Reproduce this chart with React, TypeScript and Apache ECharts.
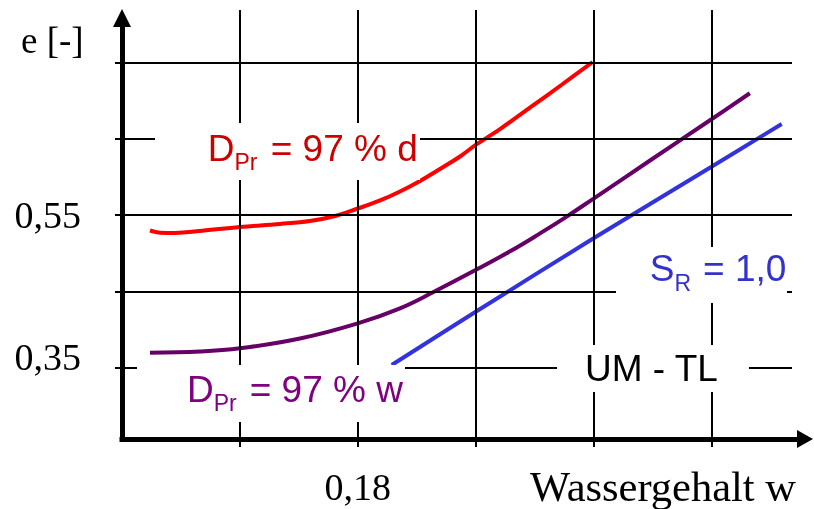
import React, { useEffect, useRef } from "react";
import * as echarts from "echarts";

// Water content w (x) and void ratio e (y)
const redW = [0.14475, 0.14645, 0.14899, 0.15323, 0.16, 0.16681, 0.17189, 0.17579, 0.18, 0.18377, 0.18716, 0.19055, 0.19394, 0.19734, 0.2, 0.20412, 0.20972, 0.21464, 0.21985];
const redE = [0.5299, 0.5271, 0.5267, 0.5293, 0.5345, 0.5385, 0.5424, 0.5483, 0.5588, 0.5693, 0.5811, 0.5949, 0.6106, 0.627, 0.6421, 0.663, 0.6939, 0.7214, 0.7509];

const purpleW = [0.14475, 0.15323, 0.16, 0.17019, 0.18, 0.18716, 0.19276, 0.2, 0.20599, 0.21091, 0.21544, 0.22, 0.22957, 0.24, 0.2465];
const purpleE = [0.3697, 0.3712, 0.3754, 0.3883, 0.4082, 0.4279, 0.4489, 0.4781, 0.5033, 0.5261, 0.5482, 0.5718, 0.6217, 0.6758, 0.7099];

const blueW = [0.18575, 0.2, 0.22, 0.24, 0.25191];
const blueE = [0.3535, 0.4234, 0.5197, 0.6136, 0.6696];

const hGrid = [0.35, 0.45, 0.55, 0.65, 0.75];
const vGrid = [0.16, 0.18, 0.2, 0.22, 0.24];
const yTickValues = [0.35, 0.55];
const xTickValues = [0.18];

const X_MIN = 0.138813;
const X_MAX = 0.253656;
const Y_MIN = 0.246;
const Y_MAX = 0.8191;

const SANS = '"Liberation Sans", Arial, sans-serif';
const SERIF = '"Liberation Serif", "Times New Roman", serif';

const pairs = (xs: number[], ys: number[]) => xs.map((x, i) => [x, ys[i]]);
const fmt = (v: number) => v.toFixed(2).replace(".", ",");

function txt(text: string, x: number, y: number, size: number, color: string, family = SANS, align = "left") {
  return {
    type: "text",
    x,
    y,
    z: 11,
    silent: true,
    style: {
      text,
      fill: color,
      font: `${size}px ${family}`,
      textAlign: align,
      align,
      textVerticalAlign: "middle",
      verticalAlign: "middle",
    },
  };
}

function bg(x: number, y: number, w: number, h: number) {
  return { type: "rect", z: 10, silent: true, shape: { x, y, width: w, height: h }, style: { fill: "#fff" } };
}

export default function App() {
  const ref = useRef<HTMLDivElement>(null);
  useEffect(() => {
    if (!ref.current) return;
    const chart = echarts.init(ref.current, undefined, { renderer: "svg" });
    const red = "#ff0000";
    const redText = "#cc0000";
    const purple = "#660066";
    const purpleText = "#800080";
    const blue = "#3333dd";
    const blueText = "#3333cc";
    const option: any = {
      animation: false,
      grid: [
        { left: 115, right: 22, top: 10, bottom: 62 },
        { left: 122, right: 9, top: 18, bottom: 70 },
      ],
      xAxis: [
        {
          gridIndex: 0,
          type: "value",
          min: X_MIN,
          max: X_MAX,
          axisLine: { show: false },
          axisTick: { show: false },
          splitLine: { show: false },
          axisLabel: {
            customValues: xTickValues,
            formatter: fmt,
            margin: 21,
            color: "#000",
            fontFamily: SERIF,
            fontSize: 38,
          },
        },
        {
          gridIndex: 1,
          type: "value",
          min: 0,
          max: 1,
          axisLine: {
            show: true,
            onZero: false,
            symbol: ["none", "triangle"],
            symbolSize: [18, 16],
            lineStyle: { color: "#000", width: 5, cap: "square" },
          },
          axisTick: { show: false },
          axisLabel: { show: false },
          splitLine: { show: false },
        },
      ],
      yAxis: [
        {
          gridIndex: 0,
          type: "value",
          min: Y_MIN,
          max: Y_MAX,
          axisLine: { show: false },
          axisTick: { show: false },
          splitLine: { show: false },
          axisLabel: {
            customValues: yTickValues,
            formatter: (v: number) => (Math.abs(v - 0.35) < 1e-6 ? `{up|${fmt(v)}}` : `{n|${fmt(v)}}`),
            margin: 34,
            color: "#000",
            fontFamily: SERIF,
            fontSize: 38,
            rich: {
              up: { fontFamily: SERIF, fontSize: 38, color: "#000", padding: [0, 0, 22, 0] },
              n: { fontFamily: SERIF, fontSize: 38, color: "#000" },
            },
          },
        },
        {
          gridIndex: 1,
          type: "value",
          min: 0,
          max: 1,
          axisLine: {
            show: true,
            onZero: false,
            symbol: ["none", "triangle"],
            symbolSize: [18, 18],
            lineStyle: { color: "#000", width: 5, cap: "square" },
          },
          axisTick: { show: false },
          axisLabel: { show: false },
          splitLine: { show: false },
        },
      ],
      series: [
        {
          type: "line",
          xAxisIndex: 0,
          yAxisIndex: 0,
          data: [],
          z: 1,
          silent: true,
          markLine: {
            silent: true,
            symbol: ["none", "none"],
            label: { show: false },
            emphasis: { disabled: true },
            lineStyle: { color: "#000", width: 2, type: "solid" },
            data: [...hGrid.map((v) => ({ yAxis: v })), ...vGrid.map((v) => ({ xAxis: v }))],
          },
        },
        {
          type: "line",
          name: "DPr = 97 % d",
          xAxisIndex: 0,
          yAxisIndex: 0,
          data: pairs(redW, redE),
          smooth: 0.4,
          symbol: "none",
          z: 3,
          lineStyle: { color: red, width: 4 },
        },
        {
          type: "line",
          name: "DPr = 97 % w",
          xAxisIndex: 0,
          yAxisIndex: 0,
          data: pairs(purpleW, purpleE),
          smooth: 0.4,
          symbol: "none",
          z: 3,
          lineStyle: { color: purple, width: 4 },
        },
        {
          type: "line",
          name: "SR = 1,0",
          xAxisIndex: 0,
          yAxisIndex: 0,
          data: pairs(blueW, blueE),
          smooth: 0.3,
          symbol: "none",
          z: 3,
          lineStyle: { color: blue, width: 4 },
        },
      ],
      graphic: [
        bg(155, 123, 265, 57),
        bg(137, 365, 268, 57),
        bg(557, 345, 192, 47),
        bg(616, 247, 171, 56),
        txt("D", 207.7, 148.7, 37, redText),
        txt("Pr", 234.4, 161.6, 23, redText),
        txt("= 97 % d", 270.7, 148.7, 37, redText),
        txt("D", 187, 389.3, 37, purpleText),
        txt("Pr", 213.7, 402.6, 23, purpleText),
        txt("= 97 % w", 249.7, 389.3, 37, purpleText),
        txt("S", 649.7, 268, 37, blueText),
        txt("R", 674.4, 283, 23, blueText),
        txt("= 1,0", 703, 268, 37, blueText),
        txt("UM - TL", 585, 368.7, 37, "#000"),
        txt("e [-]", 21, 40.5, 37, "#000", SERIF),
        txt("Wassergehalt w", 796, 486.5, 42.5, "#000", SERIF, "right"),
      ],
    };
    chart.setOption(option);
    return () => chart.dispose();
  }, []);
  return <div ref={ref} style={{ position: "fixed", left: 0, top: 0, width: 814, height: 509 }} />;
}
